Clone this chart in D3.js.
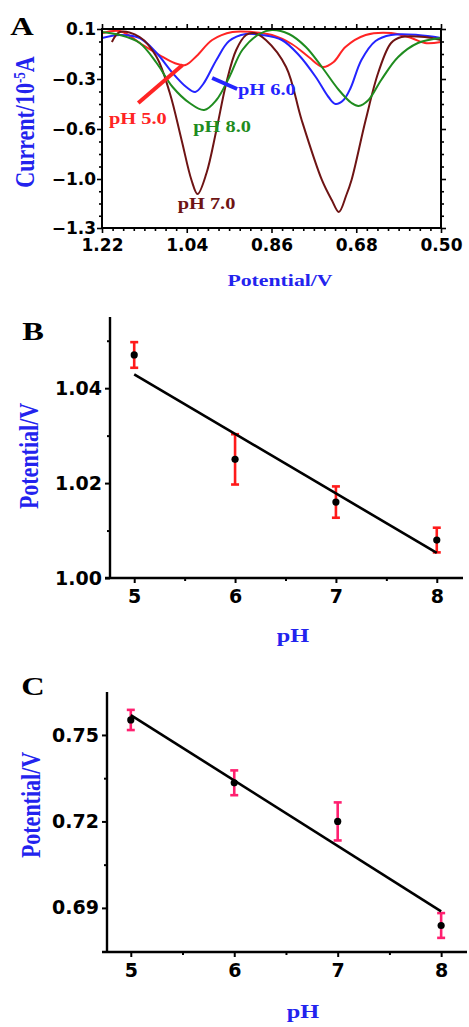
<!DOCTYPE html>
<html><head><meta charset="utf-8">
<script src="https://cdn.jsdelivr.net/npm/d3@7"></script>
<style>body{margin:0;background:#fff}svg{display:block}</style>
</head><body><svg id="c" width="469" height="1027"></svg>
<script>
// ---------- Panel A data: potential (V) vs current (10^-5 A) ----------
const curvePH5 = [[1.218,0.068],[1.182,0.084],[1.133,-0.028],[1.098,-0.108],[1.066,-0.172],[1.043,-0.188],[1.019,-0.116],[0.986,0.012],[0.943,0.076],[0.901,0.076],[0.859,0.052],[0.817,-0.02],[0.781,-0.124],[0.751,-0.204],[0.728,-0.164],[0.703,-0.044],[0.660,0.052],[0.606,0.068],[0.563,0.028],[0.534,-0.012],[0.500,-0.004]];
const curvePH6 = [[1.220,0.028],[1.182,0.052],[1.140,0.028],[1.104,-0.092],[1.070,-0.252],[1.041,-0.348],[1.022,-0.378],[1.005,-0.330],[0.977,-0.148],[0.950,0.004],[0.914,0.060],[0.880,0.052],[0.838,0.012],[0.802,-0.108],[0.766,-0.284],[0.739,-0.408],[0.724,-0.450],[0.707,-0.426],[0.692,-0.354],[0.669,-0.148],[0.639,0.004],[0.606,0.052],[0.549,0.052],[0.500,0.028]];
const curvePH7 = [[1.199,-0.004],[1.182,0.076],[1.140,0.036],[1.104,-0.124],[1.076,-0.384],[1.051,-0.688],[1.030,-1.006],[1.017,-1.092],[0.998,-0.952],[0.977,-0.608],[0.956,-0.324],[0.935,-0.068],[0.914,0.052],[0.897,0.068],[0.872,0.012],[0.829,-0.204],[0.796,-0.546],[0.753,-1.006],[0.732,-1.129],[0.717,-1.202],[0.701,-1.098],[0.690,-1.006],[0.660,-0.546],[0.633,-0.246],[0.606,-0.012],[0.584,0.036],[0.534,0.036],[0.500,0.012]];
const curvePH8 = [[1.220,0.076],[1.182,0.052],[1.140,-0.012],[1.104,-0.172],[1.070,-0.348],[1.034,-0.444],[1.003,-0.486],[0.977,-0.426],[0.950,-0.288],[0.922,-0.068],[0.886,0.060],[0.859,0.092],[0.823,0.060],[0.787,-0.044],[0.753,-0.204],[0.717,-0.366],[0.690,-0.444],[0.675,-0.462],[0.654,-0.426],[0.627,-0.306],[0.591,-0.124],[0.549,-0.012],[0.500,0.028]];
const seriesNamesA = ["pH 5.0","pH 6.0","pH 7.0","pH 8.0"];
const seriesColorsA = ["#ff2424","#2424ff","#6e1414","#1f8c1f"];
const xTicksA = [1.22,1.04,0.86,0.68,0.50];
const yTicksA = [0.1,-0.3,-0.6,-1.0,-1.3];
// label anchors (potential, current) and pointer segments
const labelAnchorsA = [[1.144,-0.534],[0.870,-0.360],[0.998,-1.147],[0.965,-0.582]];
const pointer5 = [[1.143,-0.444],[1.049,-0.188]];
const pointer6 = [[0.986,-0.292],[0.933,-0.360]];

// ---------- Panel B data ----------
const phValues = [5,6,7,8];
const potB = [1.047,1.025,1.016,1.008];
const errB = [0.0027,0.0053,0.0033,0.0026];
const fitB = [[5,1.0429],[8,1.0053]];
const yTicksB = [1.00,1.02,1.04];
const yMinorB = [1.01,1.03,1.05];
// ---------- Panel C data ----------
const potC = [0.7552,0.7334,0.7200,0.6839];
const errC = [0.0035,0.0043,0.0066,0.0043];
const fitC = [[5,0.7569],[8,0.6888]];
const yTicksC = [0.69,0.72,0.75];
const yMinorC = [0.705,0.735];
const xTicksPH = [5,6,7,8];
const xMinorPH = [5.5,6.5,7.5];

const svg = d3.select("#c");
const BLUE = "#2323ee";
const SERIF = "'Liberation Serif','Times New Roman',serif";
const SANS = "'DejaVu Sans',sans-serif";
const SX = 1.28;

function sText(g, x, y, str, o) {
  const t = g.append("text")
    .attr("transform", `translate(${x},${y}) scale(${o.sx ?? SX},1)` + (o.rotate ? " rotate(-90)" : ""))
    .attr("text-anchor", o.anchor || "middle")
    .attr("font-family", o.family || SERIF)
    .attr("font-weight", "bold")
    .attr("font-size", o.size)
    .attr("fill", o.fill || "#000");
  if (o.dy) t.attr("dy", o.dy);
  t.text(str);
  return t;
}

// ================= Panel A =================
{
  const g = svg.append("g");
  const x = d3.scaleLinear().domain([1.22, 0.50]).range([102, 441]);
  const y = d3.scaleLinear().domain(yTicksA).range([29, 79, 129, 179, 228]);
  const minorX = d3.range(0, 33).map(i => 1.22 - i * 0.0225).filter(v => !xTicksA.some(t => Math.abs(t - v) < 1e-6));
  const minorY = [];
  for (let i = 0; i < yTicksA.length - 1; i++)
    for (let k = 1; k < 4; k++) minorY.push(yTicksA[i] + (yTicksA[i + 1] - yTicksA[i]) * k / 4);

  const styleAxis = a => { a.select(".domain").remove(); a.selectAll("line").attr("stroke", "#000").attr("stroke-width", 1.6); };
  const tickText = a => a.selectAll("text").attr("font-family", SANS).attr("font-weight", "bold").attr("font-size", 17).attr("fill", "#000");

  const bx = g.append("g").attr("transform", "translate(0,228)")
    .call(d3.axisBottom(x).tickValues(xTicksA).tickSize(5).tickPadding(6).tickFormat(d3.format(".2f")));
  styleAxis(bx); tickText(bx);
  styleAxis(g.append("g").attr("transform", "translate(0,228)").call(d3.axisBottom(x).tickValues(minorX).tickSize(3).tickFormat("")));
  styleAxis(g.append("g").attr("transform", "translate(0,29)").call(d3.axisTop(x).tickValues(xTicksA).tickSize(5).tickFormat("")));
  styleAxis(g.append("g").attr("transform", "translate(0,29)").call(d3.axisTop(x).tickValues(minorX).tickSize(3).tickFormat("")));
  const ly = g.append("g").attr("transform", "translate(102,0)")
    .call(d3.axisLeft(y).tickValues(yTicksA).tickSize(5).tickPadding(1).tickFormat(d3.format(".1f")));
  styleAxis(ly); tickText(ly);
  styleAxis(g.append("g").attr("transform", "translate(102,0)").call(d3.axisLeft(y).tickValues(minorY).tickSize(3).tickFormat("")));
  styleAxis(g.append("g").attr("transform", "translate(441,0)").call(d3.axisRight(y).tickValues(yTicksA).tickSize(5).tickFormat("")));
  styleAxis(g.append("g").attr("transform", "translate(441,0)").call(d3.axisRight(y).tickValues(minorY).tickSize(3).tickFormat("")));

  const line = d3.line().x(d => x(d[0])).y(d => y(d[1])).curve(d3.curveCatmullRom.alpha(0.5));
  const clip = g.append("clipPath").attr("id", "clipA").append("rect").attr("x", 102).attr("y", 27).attr("width", 339).attr("height", 201);
  const curves = [curvePH5, curvePH6, curvePH7, curvePH8];
  g.append("g").attr("clip-path", "url(#clipA)").selectAll("path").data(curves).join("path")
    .attr("d", line).attr("fill", "none")
    .attr("stroke", (d, i) => seriesColorsA[i]).attr("stroke-width", 2);

  g.append("rect").attr("x", 102).attr("y", 29).attr("width", 339).attr("height", 199)
    .attr("fill", "none").attr("stroke", "#000").attr("stroke-width", 2);

  // pointers
  g.append("line").attr("x1", x(pointer5[0][0])).attr("y1", y(pointer5[0][1])).attr("x2", x(pointer5[1][0])).attr("y2", y(pointer5[1][1]))
    .attr("stroke", seriesColorsA[0]).attr("stroke-width", 4);
  g.append("line").attr("x1", x(pointer6[0][0])).attr("y1", y(pointer6[0][1])).attr("x2", x(pointer6[1][0])).attr("y2", y(pointer6[1][1]))
    .attr("stroke", seriesColorsA[1]).attr("stroke-width", 4);
  seriesNamesA.forEach((n, i) => {
    sText(g, x(labelAnchorsA[i][0]), y(labelAnchorsA[i][1]), n, { size: 17, fill: seriesColorsA[i], dy: "0.35em", sx: 1.2 });
  });

  sText(g, 22, 35, "A", { size: 25, anchor: "middle", sx: 1.3 });
  const yl = sText(g, 24, 122, "Current/10", { size: 22, fill: BLUE, rotate: true, dy: "0.35em" });
  yl.append("tspan").attr("font-size", 13).attr("baseline-shift", "super").text("-5");
  yl.append("tspan").text("A");
  sText(g, 280, 286, "Potential/V", { size: 17, fill: BLUE });
}

// ================= Panel B / C =================
function scatterPanel(o) {
  const g = svg.append("g");
  const x = d3.scaleLinear().domain(o.xDom).range(o.xRange);
  const y = d3.scaleLinear().domain(o.yDom).range(o.yRange);
  const [x0, x1] = o.xRange, [yb, yt] = o.yRange;
  const styleAxis = a => { a.select(".domain").remove(); a.selectAll("line").attr("stroke", "#000").attr("stroke-width", 2); };
  const tickText = a => a.selectAll("text").attr("font-family", SANS).attr("font-weight", "bold").attr("font-size", 19).attr("fill", "#000");

  const bx = g.append("g").attr("transform", `translate(0,${yb})`)
    .call(d3.axisBottom(x).tickValues(xTicksPH).tickSize(5).tickPadding(7).tickFormat(d3.format("d")));
  styleAxis(bx); tickText(bx);
  styleAxis(g.append("g").attr("transform", `translate(0,${yb})`).call(d3.axisBottom(x).tickValues(xMinorPH).tickSize(3).tickFormat("")));
  const ly = g.append("g").attr("transform", `translate(${x0},0)`)
    .call(d3.axisLeft(y).tickValues(o.yTicks).tickSize(5).tickPadding(3).tickFormat(d3.format(".2f")));
  styleAxis(ly); tickText(ly);
  styleAxis(g.append("g").attr("transform", `translate(${x0},0)`).call(d3.axisLeft(y).tickValues(o.yMinor).tickSize(3).tickFormat("")));
  g.append("line").attr("x1", x0 - 5).attr("x2", x1).attr("y1", yb).attr("y2", yb).attr("stroke", "#000").attr("stroke-width", 2.4);
  g.append("line").attr("x1", x0).attr("x2", x0).attr("y1", yt).attr("y2", yb + 1).attr("stroke", "#000").attr("stroke-width", 2.4);

  // error bars
  const eb = g.append("g").attr("stroke", o.errColor).attr("stroke-width", 2.6);
  phValues.forEach((p, i) => {
    const cx = x(p), ya = y(o.vals[i] + o.errs[i]), yb2 = y(o.vals[i] - o.errs[i]);
    eb.append("line").attr("x1", cx).attr("x2", cx).attr("y1", ya).attr("y2", yb2);
    eb.append("line").attr("x1", cx - 4).attr("x2", cx + 4).attr("y1", ya).attr("y2", ya);
    eb.append("line").attr("x1", cx - 4).attr("x2", cx + 4).attr("y1", yb2).attr("y2", yb2);
  });
  g.append("path").datum(o.fit).attr("d", d3.line().x(d => x(d[0])).y(d => y(d[1])))
    .attr("stroke", "#000").attr("stroke-width", 2.6).attr("fill", "none");
  g.selectAll("circle.pt").data(o.vals).join("circle").attr("class", "pt")
    .attr("cx", (d, i) => x(phValues[i])).attr("cy", d => y(d)).attr("r", 3.6).attr("fill", "#000");

  sText(g, o.letterPos[0], o.letterPos[1], o.letter, { size: 25, sx: 1.3 });
  sText(g, o.yLabelPos[0], o.yLabelPos[1], "Potential/V", { size: 22, fill: BLUE, rotate: true, dy: "0.35em" });
  sText(g, o.xLabelPos[0], o.xLabelPos[1], "pH", { size: 19, fill: BLUE });
}

scatterPanel({
  xDom: [4.76, 8.26], xRange: [110, 463], yDom: [1.0, 1.055], yRange: [578, 317],
  yTicks: yTicksB, yMinor: yMinorB, vals: potB, errs: errB, fit: fitB, errColor: "#ff1a1a",
  letter: "B", letterPos: [33, 340], yLabelPos: [28, 456], xLabelPos: [293, 642]
});
scatterPanel({
  xDom: [4.77, 8.25], xRange: [107, 467], yDom: [0.6747, 0.7649], yRange: [952, 692],
  yTicks: yTicksC, yMinor: yMinorC, vals: potC, errs: errC, fit: fitC, errColor: "#ff2070",
  letter: "C", letterPos: [33, 695], yLabelPos: [30, 805], xLabelPos: [303, 1018]
});
</script></body></html>
